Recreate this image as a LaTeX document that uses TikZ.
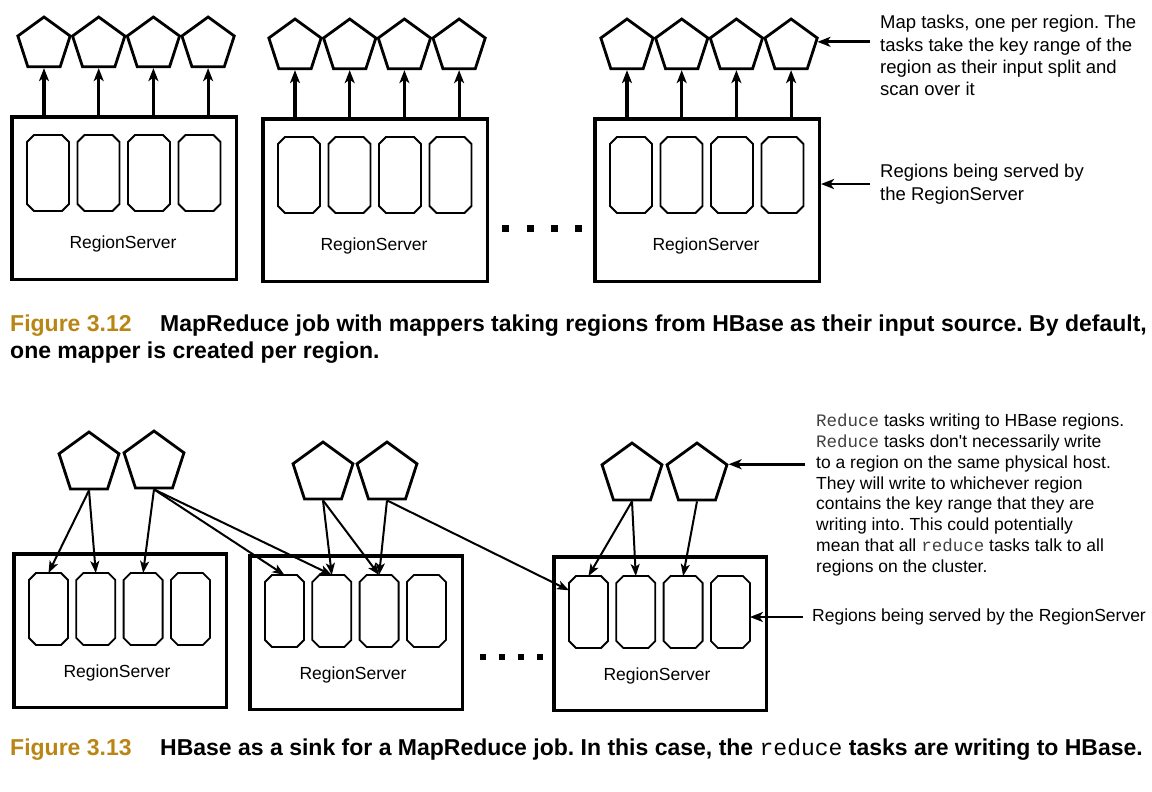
\documentclass[tikz,border=0pt]{standalone}
\usepackage{fontspec}
\setmainfont{Liberation Sans}
\setmonofont{Liberation Mono}
\usetikzlibrary{arrows.meta,shapes.geometric}
\definecolor{figGold}{RGB}{185,133,20}
\newcommand\notefont{\fontsize{18.5}{22.4}\selectfont}
\newcommand\smallnote{\fontsize{17.5}{20.9}\selectfont}
\newcommand\code[1]{{\ttfamily\color{black!75}#1}}
% octagonal outline of a region node
\newcommand\chamferbox[1]{%
  \draw[regline] ([xshift=7pt]#1.north west) -- ([xshift=-7pt]#1.north east)
    -- ([yshift=-7pt]#1.north east) -- ([yshift=7pt]#1.south east)
    -- ([xshift=-7pt]#1.south east) -- ([xshift=7pt]#1.south west)
    -- ([yshift=7pt]#1.south west) -- ([yshift=-7pt]#1.north west) -- cycle;}
\frenchspacing

\begin{document}
\begin{tikzpicture}[x=1pt,y=-1pt,
    server/.style={draw,line width=3.5pt,anchor=north west,inner sep=0pt},
    region/.style={rectangle,inner sep=0pt,outer sep=0pt},
    regline/.style={line width=1.8pt,line join=miter},
    maptask/.style={regular polygon,regular polygon sides=5,draw,
                    line width=2.8pt,inner sep=0pt},
    feed/.style={-{Stealth[length=13pt,width=10pt,inset=3.5pt]},line width=3.2pt},
    sinkarrow/.style={-{Stealth[length=12pt,width=9pt,inset=3pt]},line width=2pt},
    pointer/.style={-{Stealth[length=13pt,width=10pt,inset=3.5pt]},line width=2.8pt},
    srvname/.style={font=\fontsize{17.5}{21}\selectfont},
    note/.style={align=left,anchor=north west,inner sep=0pt},
    figcap/.style={anchor=base west,inner sep=0pt,
                   font=\fontsize{23}{28}\selectfont\bfseries},
  ]
    \useasboundingbox (0,0) rectangle (1152,792);

    % Figure 3.12: RegionServers, regions and map tasks
    \foreach \s/\sx/\sy in {1/10/115,2/261/117,3/593/117}{
      \node[server,minimum width=224.5pt,minimum height=162.5pt] (srv\s) at (\sx,\sy) {};
      \node[srvname] at (\sx+113,\sy+129) {RegionServer};
      \foreach \rn in {1,...,4}{
        \node[region,minimum width=42pt,minimum height=76pt] (reg\s\rn)
          at (\sx+38+50.5*\rn-50.5,\sy+58) {};
        \chamferbox{reg\s\rn}
      }
      \foreach \mn in {1,...,4}{
        \node[maptask,minimum size=55pt] (map\s\mn)
          at (\sx+34+54.7*\mn-54.7,\sy-70.5) {};
        \draw[feed] (map\s\mn.south |- srv\s.north) -- (map\s\mn.south);
      }
    }
    \foreach \dx in {505,530,554,578}
      \fill (\dx-3.5,224.5) rectangle +(7,7);

    % Notes
    \node[note,font=\notefont] (noteMap) at (880,15)
      {Map tasks, one per region. The\\tasks take the key range of the\\
       region as their input split and\\scan over it};
    \draw[pointer] ([xshift=-10pt]noteMap.west |- map34.10) -- (map34.10);
    \node[note,font=\notefont] (noteSrv) at (880,164)
      {Regions being served by\\the RegionServer};
    \draw[pointer] ([xshift=-10pt]noteSrv.west) -- (noteSrv.west -| srv3.east);

    % Caption
    \node[figcap,text=figGold] (fig12) at (10,331) {Figure 3.12};
    \node[figcap] (cap12a) at (160,331)
      {MapReduce job with mappers taking regions from HBase as their input source. By default,};
    \node[figcap] (cap12b) at (10,358) {one mapper is created per region.};

    % Figure 3.13: RegionServers and reduce tasks
    \foreach \s/\sx/\sy in {A/12/552,B/248/554,C/552/555}{
      \node[server,minimum width=212.5pt,minimum height=153.5pt] (srv\s) at (\sx,\sy) {};
      \node[srvname] at (\sx+105,\sy+121) {RegionServer};
      \foreach \rn in {1,...,4}{
        \node[region,minimum width=39pt,minimum height=72pt] (reg\s\rn)
          at (\sx+36.5+47.3*\rn-47.3,\sy+57) {};
        \chamferbox{reg\s\rn}
      }
    }
    \node[maptask,minimum size=63pt] (red1) at (89,463.5) {};
    \node[maptask,minimum size=63pt] (red2) at (154,462.5) {};
    \node[maptask,minimum size=63pt] (red3) at (323,473.5) {};
    \node[maptask,minimum size=63pt] (red4) at (387,473.5) {};
    \node[maptask,minimum size=63pt] (red5) at (632,474.5) {};
    \node[maptask,minimum size=63pt] (red6) at (697,474.5) {};
    \foreach \src/\dst in {red1/regA1,red1/regA2,red2/regA3,red2/regB1,red2/regB2,
                           red3/regB2,red3/regB3,red4/regB3,red5/regC1,red5/regC2,red6/regC3}
      \draw[sinkarrow] (\src.south) -- (\dst.north);
    \draw[sinkarrow] (red4.south) -- (regC1.132);
    \foreach \dx in {483,502,521,540}
      \fill (\dx-3,654) rectangle +(6,6);

    % Notes
    \node[note,font=\smallnote] (noteRed) at (816,413.5)
      {\code{Reduce} tasks writing to HBase regions.\\
       \code{Reduce} tasks don\textquotesingle t necessarily write\\
       to a region on the same physical host.\\
       They will write to whichever region\\
       contains the key range that they are\\
       writing into. This could potentially\\
       mean that all \code{reduce} tasks talk to all\\
       regions on the cluster.};
    \draw[pointer] ([xshift=-11pt]noteRed.west |- red6.corner 5) -- (red6.corner 5);
    \node[note,anchor=west,font=\smallnote] (noteReg) at (812,617)
      {Regions being served by the RegionServer};
    \draw[pointer] ([xshift=-9pt]noteReg.west) -- (noteReg.west -| regC4.east);

    % Caption
    \node[figcap,text=figGold] (fig13) at (10,755) {Figure 3.13};
    \node[figcap] (cap13) at (160,755)
      {HBase as a sink for a MapReduce job. In this case, the {\mdseries\ttfamily reduce} tasks are writing to HBase.};

  \end{tikzpicture}
\end{document}
